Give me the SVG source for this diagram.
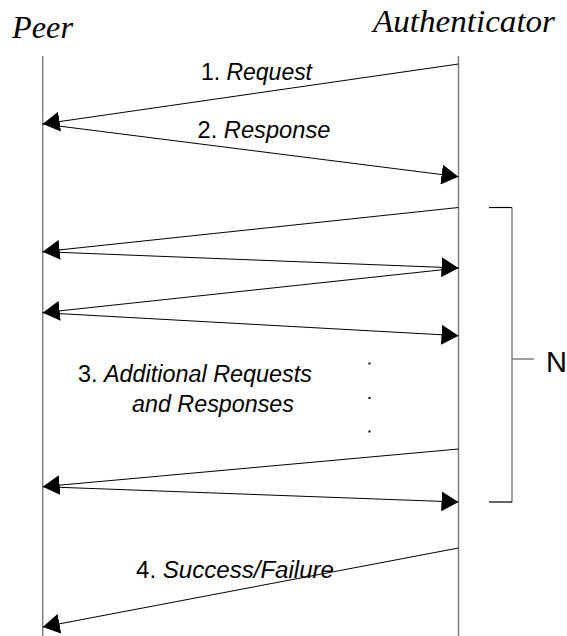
<svg xmlns="http://www.w3.org/2000/svg" width="567" height="636" viewBox="0 0 567 636">
  <style>
    .actor { font-family: "Liberation Serif", "Times New Roman", serif; font-style: italic; font-size: 32px; fill: #000; }
    .label { font-family: "Liberation Sans", Arial, sans-serif; font-size: 23px; fill: #000; }
    .label .msg { font-style: italic; }
    .n { font-family: "Liberation Sans", Arial, sans-serif; font-size: 29px; fill: #000; }
    .lifeline { stroke: #808080; stroke-width: 1.5; fill: none; }
    .msgline { stroke: #000; stroke-width: 1; fill: none; marker-end: url(#ah); }
    .brk { stroke: #000; stroke-width: 1.2; fill: none; }
    .brk-v { stroke: #808080; stroke-width: 1.5; fill: none; }
  </style>
  <defs>
    <marker id="ah" markerUnits="userSpaceOnUse" markerWidth="18" markerHeight="20" refX="17" refY="10" orient="auto">
      <path d="M0,0 L17,10 L0,20 z" fill="#000"/>
    </marker>
  </defs>

  <!-- participants -->
  <g id="peer">
    <text class="actor" x="12" y="38" textLength="61" lengthAdjust="spacingAndGlyphs">Peer</text>
    <line class="lifeline" x1="42.7" y1="56" x2="42.7" y2="636"/>
  </g>
  <g id="authenticator">
    <text class="actor" x="373" y="32" textLength="182" lengthAdjust="spacingAndGlyphs">Authenticator</text>
    <line class="lifeline" x1="458.5" y1="56" x2="458.5" y2="636"/>
  </g>

  <!-- message exchange -->
  <g id="connectors">
    <line class="msgline" x1="458.5" y1="64" x2="42.7" y2="124"/>
    <line class="msgline" x1="42.7" y1="124" x2="458.5" y2="176.7"/>
    <line class="msgline" x1="458.5" y1="207.5" x2="42.7" y2="251.7"/>
    <line class="msgline" x1="42.7" y1="251.7" x2="458.5" y2="268"/>
    <line class="msgline" x1="458.5" y1="268" x2="42.7" y2="312.7"/>
    <line class="msgline" x1="42.7" y1="312.7" x2="458.5" y2="335.7"/>
    <line class="msgline" x1="458.5" y1="449" x2="42.7" y2="486.7"/>
    <line class="msgline" x1="42.7" y1="486.7" x2="458.5" y2="502"/>
    <line class="msgline" x1="458.5" y1="548" x2="42.7" y2="627"/>
  </g>

  <!-- message labels -->
  <g id="labels">
    <text class="label" x="201" y="80" textLength="111" lengthAdjust="spacingAndGlyphs">1. <tspan class="msg">Request</tspan></text>
    <text class="label" x="197.5" y="138.3" textLength="133" lengthAdjust="spacingAndGlyphs">2. <tspan class="msg">Response</tspan></text>
    <text class="label" x="78" y="382.3" textLength="234" lengthAdjust="spacingAndGlyphs">3. <tspan class="msg">Additional Requests</tspan></text>
    <text class="label" x="132" y="411.7" textLength="162" lengthAdjust="spacingAndGlyphs" font-style="italic">and Responses</text>
    <text class="label" x="136" y="578.3" textLength="198" lengthAdjust="spacingAndGlyphs">4. <tspan class="msg">Success/Failure</tspan></text>
  </g>

  <!-- ellipsis dots -->
  <g id="dots" fill="#000">
    <rect x="368.5" y="362.5" width="2" height="2"/>
    <rect x="368.5" y="397" width="2" height="2"/>
    <rect x="368.5" y="430.5" width="2" height="2"/>
  </g>

  <!-- repetition bracket -->
  <g id="bracket">
    <line class="brk" x1="489" y1="207.5" x2="512" y2="207.5"/>
    <line class="brk-v" x1="512" y1="207.5" x2="512" y2="502"/>
    <line class="brk" x1="489" y1="502" x2="512" y2="502"/>
    <line class="brk-v" x1="512" y1="359" x2="534" y2="359"/>
    <text class="n" x="546" y="371.7">N</text>
  </g>
</svg>
